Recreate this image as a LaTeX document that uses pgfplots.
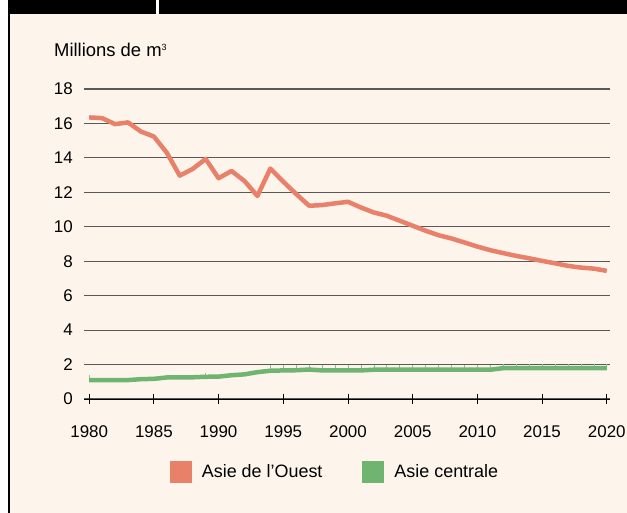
\documentclass[border=0pt]{standalone}
\usepackage{fontspec}
\setmainfont{Liberation Sans}
\usepackage{pgfplots}
\pgfplotsset{compat=1.18}
\definecolor{bg}{HTML}{FDF5EC}
\definecolor{ored}{HTML}{E8806A}
\definecolor{ogreen}{HTML}{70B472}
\begin{document}
\begin{tikzpicture}
\useasboundingbox (-84bp,-114bp) rectangle (543bp,399bp);
\fill[white] (-84bp,-114bp) rectangle (543bp,399bp);
\fill[bg] (-76bp,-114bp) rectangle (543bp,385bp);
\fill[black] (-76bp,385bp) rectangle (543bp,399bp);
\fill[white] (72bp,385bp) rectangle (74.5bp,399bp);
\fill[black] (-76bp,-114bp) rectangle (-74bp,399bp);
\node[anchor=base west, inner sep=0pt, font=\fontsize{18.5}{21}\selectfont] at (-30bp,342bp) {Millions de m\raisebox{6bp}{\fontsize{9}{10}\selectfont 3}};
\begin{axis}[
  at={(0bp,0bp)}, anchor=south west,
  scale only axis, width=526bp, height=310bp,
  xmin=1979.6, xmax=2020.25, ymin=0, ymax=18,
  axis x line*=bottom, axis y line*=left,
  x axis line style={-, black, line width=1bp},
  y axis line style={draw=none},
  ytick style={draw=none},
  ymajorgrids, grid style={black!65, line width=1.1bp},
  ytick={0,2,...,18}, xtick={1980,1985,...,2020},
  xtick align=center, major tick length=10bp,
  xtick style={black, line width=0.9bp},
  xticklabel style={font=\fontsize{17}{20}\selectfont, inner sep=0pt, anchor=north, yshift=-21bp},
  yticklabel style={font=\fontsize{17}{20}\selectfont, inner sep=0pt, anchor=east, xshift=-11bp},
  /pgf/number format/assume math mode=true,
  /pgf/number format/set thousands separator={},
  clip=false,
  legend columns=2,
  legend image code/.code={\fill[#1,draw=none] (0bp,-11bp) rectangle (22bp,11bp);},
  legend style={at={(0.4772,-0.2355)}, anchor=center, draw=none, fill=none,
    font=\fontsize{18}{21}\selectfont,
    /tikz/every odd column/.append style={column sep=8bp},
    /tikz/every even column/.append style={column sep=38bp}},
]
\addplot[color=ored, line width=4.5bp, line join=round] coordinates {
(1980,16.35)(1981,16.31)(1982,15.96)(1983,16.06)(1984,15.53)(1985,15.24)
(1986,14.30)(1987,12.97)(1988,13.36)(1989,13.94)(1990,12.82)(1991,13.24)
(1992,12.66)(1993,11.79)(1994,13.38)(1995,12.62)(1996,11.90)(1997,11.22)
(1998,11.26)(1999,11.36)(2000,11.45)(2001,11.12)(2002,10.83)(2003,10.64)
(2004,10.35)(2005,10.06)(2006,9.77)(2007,9.51)(2008,9.32)(2009,9.09)
(2010,8.85)(2011,8.64)(2012,8.47)(2013,8.31)(2014,8.17)(2015,8.02)
(2016,7.88)(2017,7.73)(2018,7.63)(2019,7.57)(2020,7.44)
};
\addlegendentry{Asie de l'Ouest}
\addplot[draw=none, forget plot, mark=none,
  error bars/.cd, y dir=plus, y explicit, error mark=none,
  error bar style={ogreen!80, line width=0.6bp}] coordinates {
(1980,1.10) +- (0,0.28) (1989,1.29) +- (0,0.24)
(1994,1.64) +- (0,0.36) (1995,1.66) +- (0,0.34) (1996,1.67) +- (0,0.33)
(1997,1.71) +- (0,0.29) (1998,1.66) +- (0,0.34) (1999,1.66) +- (0,0.34)
(2000,1.66) +- (0,0.34) (2001,1.66) +- (0,0.34) (2002,1.70) +- (0,0.30)
(2003,1.70) +- (0,0.30) (2004,1.70) +- (0,0.30) (2005,1.70) +- (0,0.30)
(2006,1.70) +- (0,0.30) (2007,1.70) +- (0,0.30) (2008,1.70) +- (0,0.30)
(2009,1.70) +- (0,0.30) (2010,1.70) +- (0,0.30) (2011,1.70) +- (0,0.30)
(2012,1.79) +- (0,0.22) (2013,1.79) +- (0,0.22) (2014,1.79) +- (0,0.22)
(2015,1.79) +- (0,0.22) (2016,1.79) +- (0,0.22) (2017,1.79) +- (0,0.22)
(2018,1.79) +- (0,0.22) (2019,1.79) +- (0,0.22) (2020,1.79) +- (0,0.22)
};
\addplot[color=ogreen, line width=4.5bp, line join=round] coordinates {
(1980,1.10)(1981,1.10)(1982,1.10)(1983,1.10)(1984,1.15)(1985,1.17)
(1986,1.25)(1987,1.25)(1988,1.26)(1989,1.29)(1990,1.30)(1991,1.38)
(1992,1.43)(1993,1.56)(1994,1.64)(1995,1.66)(1996,1.67)(1997,1.71)
(1998,1.66)(1999,1.66)(2000,1.66)(2001,1.66)(2002,1.70)(2003,1.70)
(2004,1.70)(2005,1.70)(2006,1.70)(2007,1.70)(2008,1.70)(2009,1.70)
(2010,1.70)(2011,1.70)(2012,1.79)(2013,1.79)(2014,1.79)(2015,1.79)
(2016,1.79)(2017,1.79)(2018,1.79)(2019,1.79)(2020,1.79)
};
\addlegendentry{Asie centrale}
\end{axis}
\end{tikzpicture}
\end{document}
